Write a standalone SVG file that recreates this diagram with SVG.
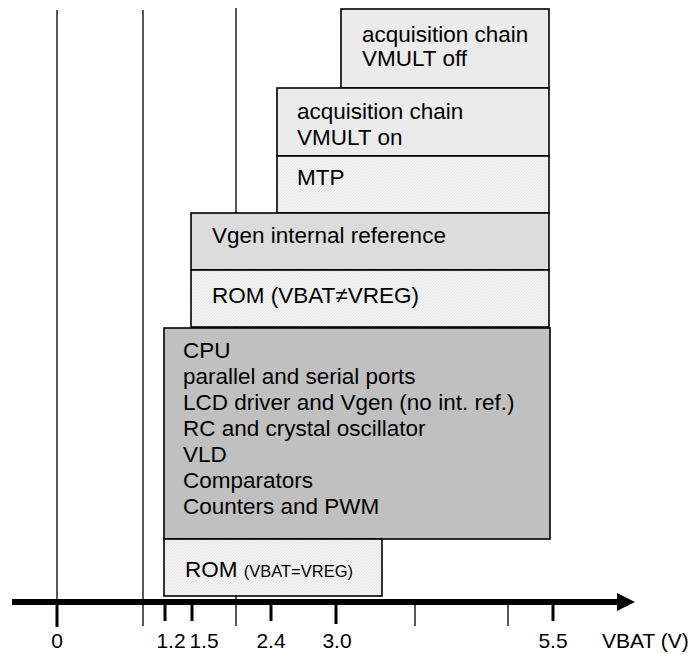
<svg xmlns="http://www.w3.org/2000/svg" width="696" height="654" viewBox="0 0 696 654">
<style>
text{font-family:"Liberation Sans",Arial,sans-serif;font-size:22.5px;fill:#000}
.small{font-size:16.5px}
.ax{font-size:21px}
.box{stroke:#000;stroke-width:1.6}
.l1{fill:#ebebeb}
.l2{fill:#dcdcdc}
.l3{fill:#c0c0c0}
.h{fill:url(#hatch)}
.grid{stroke:#000;stroke-width:1.3;fill:none}
.tick{stroke:#000;stroke-width:3;fill:none}
</style>
<defs>
<pattern id="hatch" patternUnits="userSpaceOnUse" width="3" height="3">
<rect width="3" height="3" fill="#f4f4f4"/>
<path d="M-1,1 L1,-1 M0,3 L3,0 M2,4 L4,2" stroke="#e0e0e0" stroke-width="0.8"/>
</pattern>
<marker id="arr" viewBox="0 0 10 10" refX="0" refY="5" markerWidth="3.2" markerHeight="3" orient="auto" markerUnits="strokeWidth">
<path d="M0,0 L10,5 L0,10 z" fill="#000"/>
</marker>
</defs>
<g id="gridlines">
<line class="grid" x1="57" y1="10" x2="57" y2="627"/>
<line class="grid" x1="143" y1="10" x2="143" y2="626"/>
<line class="grid" x1="236" y1="8" x2="236" y2="626"/>
</g>
<g id="node-acq-off">
<rect class="box l1" x="341" y="9" width="208" height="79"/>
<text x="362" y="42">acquisition chain</text>
<text x="362" y="66">VMULT off</text>
</g>
<g id="node-acq-on">
<rect class="box l1" x="277" y="88" width="272" height="68"/>
<text x="297" y="119">acquisition chain</text>
<text x="297" y="145">VMULT on</text>
</g>
<g id="node-mtp">
<rect class="box h" x="277" y="156" width="272" height="57"/>
<text x="297" y="185">MTP</text>
</g>
<g id="node-vgen">
<rect class="box l2" x="191" y="213" width="358" height="57"/>
<text x="212" y="243">Vgen internal reference</text>
</g>
<g id="node-rom-neq">
<rect class="box h" x="191" y="270" width="358" height="57"/>
<text x="212" y="303">ROM (VBAT≠VREG)</text>
</g>
<g id="node-cpu">
<rect class="box l3" x="164" y="328" width="386" height="211"/>
<text x="183" y="358">CPU</text>
<text x="183" y="384">parallel and serial ports</text>
<text x="183" y="410">LCD driver and Vgen (no int. ref.)</text>
<text x="183" y="436">RC and crystal oscillator</text>
<text x="183" y="462">VLD</text>
<text x="183" y="488">Comparators</text>
<text x="183" y="514">Counters and PWM</text>
</g>
<g id="node-rom-eq">
<rect class="box h" x="164" y="539" width="218" height="57"/>
<text x="185" y="577">ROM <tspan class="small">(VBAT=VREG)</tspan></text>
</g>
<g id="connectors">
<line x1="12" y1="602" x2="617" y2="602" stroke="#000" stroke-width="6" marker-end="url(#arr)"/>
<line class="tick" x1="57" y1="602" x2="57" y2="627"/>
<line class="tick" x1="165" y1="602" x2="165" y2="621"/>
<line class="tick" x1="192" y1="602" x2="192" y2="621"/>
<line class="tick" x1="271" y1="602" x2="271" y2="621"/>
<line class="tick" x1="336" y1="602" x2="336" y2="624"/>
<line class="grid" x1="415" y1="602" x2="415" y2="626"/>
<line class="grid" x1="508" y1="602" x2="508" y2="626"/>
<line class="tick" x1="553" y1="602" x2="553" y2="621"/>
</g>
<g id="axis-labels">
<text class="ax" x="57" y="648" text-anchor="middle">0</text>
<text class="ax" x="171" y="648" text-anchor="middle">1.2</text>
<text class="ax" x="204" y="648" text-anchor="middle">1.5</text>
<text class="ax" x="271" y="648" text-anchor="middle">2.4</text>
<text class="ax" x="337" y="648" text-anchor="middle">3.0</text>
<text class="ax" x="553" y="648" text-anchor="middle">5.5</text>
<text class="ax" x="602" y="648">VBAT (V)</text>
</g>
</svg>
